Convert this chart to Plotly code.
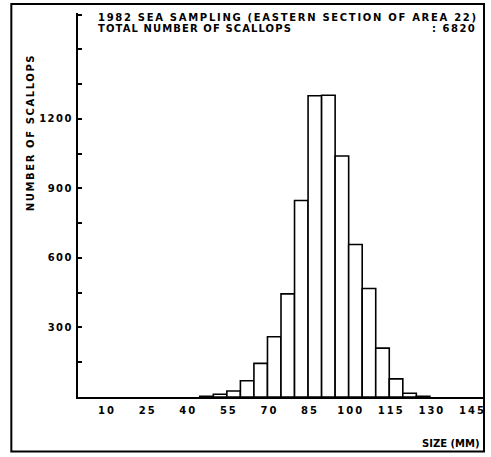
import plotly.graph_objects as go

# Size-class bins (mm, left edges of 5 mm classes) and counts
bin_start = [45, 50, 55, 60, 65, 70, 75, 80, 85, 90, 95, 100, 105, 110, 115, 120, 125]
counts = [3, 12, 26, 70, 145, 260, 445, 848, 1300, 1302, 1040, 658, 468, 211, 78, 16, 3]
bin_width = 5

x_ticks = [10, 25, 40, 55, 70, 85, 100, 115, 130, 145]
x_ticklabels = ["10", "25", "40", "55", "70", "85", "100", "115", "130", "145"]
y_tickvals = [150, 300, 450, 600, 750, 900, 1050, 1200, 1350, 1500, 1650]
y_ticklabels = ["", "300", "", "600", "", "900", "", "1200", "", "", ""]

title1 = "1982 SEA SAMPLING (EASTERN SECTION OF AREA 22)"
title2 = "TOTAL NUMBER OF SCALLOPS"
total_text = ": 6820"
x_title = "SIZE (MM)"
y_title = "NUMBER OF SCALLOPS"

FONT = dict(family="DejaVu Sans", size=10, color="black", weight="bold")


def spaced(t, s):
    if not t:
        return t
    return '<span style="letter-spacing:%spx">%s</span>' % (s, t)


W, H = 491, 457
L, R, T, B = 78, 5, 13, 60
pw, ph = W - L - R, H - T - B


def px(x):
    return (x - L) / pw


def py(y):
    return (H - B - y) / ph


centers = [s + bin_width / 2 for s in bin_start]

fig = go.Figure(
    go.Bar(
        x=centers,
        y=counts,
        width=[bin_width] * len(counts),
        marker=dict(color="white", line=dict(color="black", width=1.6)),
        showlegend=False,
    )
)

fig.update_layout(
    width=W,
    height=H,
    margin=dict(l=L, r=R, t=T, b=B),
    paper_bgcolor="white",
    plot_bgcolor="white",
    xaxis=dict(
        range=[0, 150],
        tickvals=x_ticks,
        ticktext=[spaced(t, 2) for t in x_ticklabels],
        ticks="",
        showgrid=False,
        zeroline=False,
        showline=True,
        linecolor="black",
        linewidth=2,
        tickfont=FONT,
        ticklabelstandoff=3,
        ticklabelshift=2,
    ),
    yaxis=dict(
        range=[0, 1657],
        tickvals=y_tickvals,
        ticktext=[spaced(t, 1.5) for t in y_ticklabels],
        ticks="inside",
        ticklen=4,
        tickwidth=1.5,
        tickcolor="black",
        showgrid=False,
        zeroline=False,
        showline=True,
        linecolor="black",
        linewidth=2,
        tickfont=FONT,
        ticklabelstandoff=1,
    ),
)

# outer frame around the whole figure
fig.add_shape(
    type="rect", xref="paper", yref="paper",
    x0=px(11), x1=px(486), y0=py(451.5), y1=py(4),
    line=dict(color="black", width=2), fillcolor="rgba(0,0,0,0)",
)

fig.add_annotation(text=spaced(title1, 1.7), xref="paper", yref="paper", x=px(96), y=py(17.5),
                   xanchor="left", yanchor="middle", showarrow=False, font=FONT)
fig.add_annotation(text=spaced(title2, 1.1), xref="paper", yref="paper", x=px(96), y=py(29),
                   xanchor="left", yanchor="middle", showarrow=False, font=FONT)
fig.add_annotation(text=spaced(total_text, 1.5), xref="paper", yref="paper", x=px(480), y=py(29),
                   xanchor="right", yanchor="middle", showarrow=False, font=FONT)
fig.add_annotation(text=x_title, xref="paper", yref="paper", x=px(453), y=py(443),
                   xanchor="center", yanchor="middle", showarrow=False, font=FONT)
fig.add_annotation(text=spaced(y_title, 1.6), xref="paper", yref="paper", x=px(30), y=py(133),
                   xanchor="center", yanchor="middle", textangle=-90, showarrow=False, font=FONT)

fig.write_html("out.html")
